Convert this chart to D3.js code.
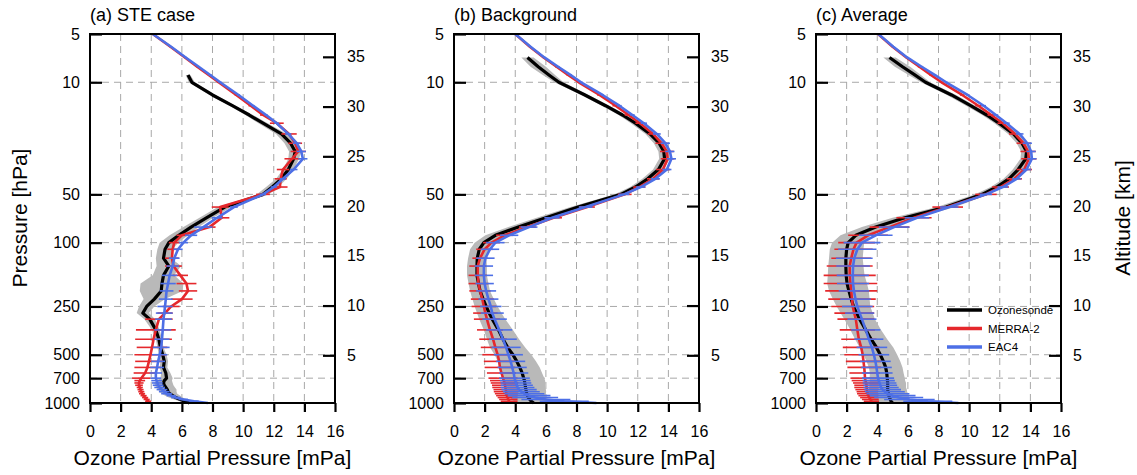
<!DOCTYPE html>
<html>
<head>
<meta charset="utf-8">
<script src="https://cdn.jsdelivr.net/npm/d3@7"></script>
<style>
  body { margin: 0; background: #fff; }
  svg text { font-family: "Liberation Sans", Arial, Helvetica, sans-serif; fill: #000; }
</style>
</head>
<body>
<div id="chart"></div>
<script>
// pressure levels [hPa], top to bottom
const levels = [5, 6, 7, 8, 9, 10,
    12, 14, 16, 18, 21, 24, 27, 30,
    35, 40, 45, 50, 60, 70, 80, 90,
    100, 110, 125, 140, 160, 180, 200, 225,
    250, 275, 300, 350, 400, 450, 500, 550,
    600, 650, 700, 725, 750, 775, 800, 825,
    850, 875, 900, 925, 950, 975, 1000];

const pressureTicks = [5, 10, 50, 100, 250, 500, 700, 1000];
const altitudeTicks = [5, 10, 15, 20, 25, 30, 35];
const ozoneTicks = [0, 2, 4, 6, 8, 10, 12, 14, 16];
const panelTitles = ["(a) STE case", "(b) Background", "(c) Average"];
const seriesNames = ["Ozonesonde", "MERRA-2", "EAC4"];

// (a) STE case
const sondeA = [null, null, null, null, 6.4, 6.65,
    8.0, 9.3, 10.4, 11.3, 12.5, 13.1, 13.4, 13.3,
    12.95, 12.5, 11.9, 11.3, 8.8, 7.6, 6.6, 5.8,
    5.15, 4.9, 4.8, 5.15, 4.8, 4.7, 4.65, 4.2,
    3.7, 3.45, 3.9, 4.3, 4.5, 4.6, 4.75, 4.85,
    4.8, 4.95, 5.0, 4.85, 4.8, 4.85, 4.95, 5.05,
    5.1, 5.2, 5.4, 5.6, 5.9, 6.2, 6.5];
const sondeStdA = [null, null, null, null, 0.15, 0.2,
    0.2, 0.2, 0.25, 0.3, 0.35, 0.4, 0.4, 0.35,
    0.35, 0.35, 0.4, 0.4, 0.45, 0.45, 0.5, 0.6,
    0.6, 0.5, 0.5, 0.8, 0.7, 1.4, 1.4, 0.7,
    0.5, 0.4, 0.35, 0.25, 0.2, 0.2, 0.25, 0.25,
    0.25, 0.3, 0.4, 0.5, 0.6, 0.6, 0.6, 0.6,
    0.55, 0.5, 0.5, 0.45, 0.4, 0.35, 0.3];
const merraA = [4.1, 5.25, 6.2, 7.0, 7.75, 8.4,
    9.55, 10.5, 11.3, 12.2, 13.0, 13.4, 13.6, 13.2,
    12.6, 12.45, 12.4, 11.3, 8.5, 8.6, 7.8, 6.0,
    5.5, 5.4, 5.35, 5.45, 5.9, 6.3, 6.4, 6.0,
    5.3, 4.9, 4.5, 4.3, 4.15, 4.05, 3.95, 3.85,
    3.75, 3.6, 3.35, 3.25, 3.2, 3.2, 3.25, 3.3,
    3.35, 3.4, 3.5, 3.6, 3.7, 3.8, 3.9];
const merraStdA = [0.05, 0.05, 0.05, 0.05, 0.05, 0.1,
    0.1, 0.15, 0.2, 0.45, 0.5, 0.45, 0.5, 0.5,
    0.4, 0.4, 0.5, 0.45, 0.55, 0.5, 0.4, 0.35,
    0.35, 0.35, 0.45, 0.55, 0.5, 0.65, 0.6, 0.7,
    0.55, 0.5, 0.9, 1.3, 1.2, 1.0, 1.05, 0.9,
    0.85, 0.75, 0.6, 0.35, 0.3, 0.25, 0.2, 0.2,
    0.2, 0.2, 0.2, 0.2, 0.2, 0.2, 0.2];
const eacA = [4.1, 5.3, 6.25, 7.1, 7.85, 8.5,
    9.7, 10.65, 11.5, 12.2, 12.95, 13.5, 13.8, 13.9,
    13.3, 12.6, 12.0, 11.3, 9.4, 8.3, 7.4, 6.6,
    6.1, 5.75, 5.5, 5.4, 5.2, 5.1, 5.0, 4.95,
    4.9, 4.85, 4.8, 4.75, 4.7, 4.65, 4.55, 4.45,
    4.38, 4.3, 4.3, 4.35, 4.4, 4.45, 4.55, 4.7,
    4.85, 5.0, 5.3, 5.6, 6.1, 6.8, 7.7];
const eacStdA = [0.05, 0.05, 0.05, 0.05, 0.1, 0.1,
    0.1, 0.1, 0.1, 0.15, 0.2, 0.25, 0.3, 0.3,
    0.25, 0.2, 0.2, 0.2, 0.25, 0.35, 0.6, 0.4,
    0.3, 0.3, 0.35, 0.4, 0.5, 0.5, 0.45, 0.45,
    0.5, 0.55, 0.55, 0.55, 0.5, 0.55, 0.5, 0.45,
    0.45, 0.4, 0.35, 0.35, 0.35, 0.35, 0.35, 0.35,
    0.35, 0.35, 0.3, 0.3, 0.3, 0.3, 0.3];

// (b) Background
const sondeB = [null, null, 4.8, 5.5, 6.2, 6.85,
    8.55, 9.9, 11.0, 11.85, 12.8, 13.4, 13.7, 13.75,
    13.35, 12.65, 11.85, 10.9, 8.1, 6.0, 4.2, 2.7,
    1.95, 1.65, 1.52, 1.5, 1.5, 1.6, 1.7, 1.9,
    2.1, 2.3, 2.5, 2.9, 3.2, 3.5, 3.85, 4.1,
    4.3, 4.45, 4.55, 4.6, 4.62, 4.65, 4.67, 4.7,
    4.72, 4.75, 4.8, 4.85, 4.95, 5.05, 5.2];
const sondeStdB = [null, null, 0.4, 0.5, 0.4, 0.3,
    0.25, 0.25, 0.25, 0.3, 0.3, 0.35, 0.35, 0.35,
    0.35, 0.35, 0.35, 0.4, 0.5, 0.6, 0.65, 0.65,
    0.6, 0.6, 0.6, 0.65, 0.65, 0.65, 0.65, 0.7,
    0.75, 0.8, 0.85, 0.95, 1.05, 1.15, 1.2, 1.25,
    1.3, 1.3, 1.35, 1.35, 1.35, 1.3, 1.3, 1.3,
    1.3, 1.25, 1.25, 1.2, 1.2, 1.1, 1.0];
const merraB = [4.0, 4.95, 5.85, 6.7, 7.45, 8.15,
    9.5, 10.55, 11.4, 12.15, 13.0, 13.55, 13.9, 13.95,
    13.65, 13.0, 12.1, 11.15, 8.7, 6.5, 4.8, 3.3,
    2.45, 2.0, 1.7, 1.55, 1.55, 1.6, 1.7, 1.85,
    1.95, 2.05, 2.15, 2.35, 2.55, 2.7, 2.85, 2.95,
    3.0, 3.1, 3.2, 3.25, 3.3, 3.33, 3.35, 3.38,
    3.4, 3.42, 3.45, 3.5, 3.55, 3.6, 3.65];
const merraStdB = [0.05, 0.05, 0.05, 0.1, 0.1, 0.1,
    0.15, 0.2, 0.25, 0.3, 0.35, 0.4, 0.45, 0.45,
    0.45, 0.4, 0.4, 0.45, 0.5, 0.55, 0.55, 0.55,
    0.55, 0.55, 0.5, 0.55, 0.6, 0.65, 0.7, 0.75,
    0.8, 0.8, 0.85, 0.85, 0.9, 0.95, 1.0, 1.0,
    1.0, 0.95, 0.95, 0.9, 0.9, 0.85, 0.85, 0.8,
    0.8, 0.75, 0.7, 0.65, 0.6, 0.55, 0.5];
const eacB = [4.0, 5.0, 5.9, 6.8, 7.6, 8.3,
    9.7, 10.8, 11.65, 12.4, 13.25, 13.8, 14.1, 14.2,
    13.9, 13.15, 12.2, 11.1, 8.6, 6.4, 4.9, 3.6,
    2.7, 2.35, 2.05, 1.95, 1.95, 2.0, 2.1, 2.25,
    2.4, 2.5, 2.65, 2.95, 3.2, 3.4, 3.55, 3.7,
    3.8, 3.9, 3.95, 4.0, 4.05, 4.1, 4.15, 4.25,
    4.4, 4.6, 4.9, 5.3, 6.0, 7.2, 9.3];
const eacStdB = [0.05, 0.05, 0.05, 0.1, 0.1, 0.1,
    0.1, 0.15, 0.15, 0.2, 0.25, 0.3, 0.3, 0.3,
    0.3, 0.3, 0.3, 0.35, 0.45, 0.5, 0.55, 0.6,
    0.6, 0.6, 0.6, 0.6, 0.6, 0.6, 0.65, 0.65,
    0.7, 0.75, 0.8, 0.85, 0.9, 0.95, 0.95, 0.95,
    0.95, 0.95, 1.0, 1.0, 1.0, 1.05, 1.1, 1.15,
    1.2, 1.3, 1.4, 1.5, 1.6, 1.6, 1.5];

// (c) Average
const sondeC = [null, null, 4.8, 5.65, 6.45, 7.15,
    8.85, 10.1, 11.15, 11.95, 12.9, 13.45, 13.75, 13.7,
    13.2, 12.6, 11.8, 10.85, 8.5, 5.8, 3.9, 2.6,
    2.1, 2.0, 1.95, 1.95, 1.97, 2.03, 2.15, 2.3,
    2.45, 2.65, 2.85, 3.25, 3.6, 3.95, 4.2, 4.4,
    4.55, 4.62, 4.65, 4.67, 4.68, 4.68, 4.68, 4.68,
    4.7, 4.72, 4.75, 4.8, 4.85, 4.9, 5.0];
const sondeStdC = [null, null, 0.4, 0.5, 0.4, 0.3,
    0.3, 0.3, 0.3, 0.3, 0.35, 0.35, 0.35, 0.35,
    0.35, 0.35, 0.4, 0.45, 0.6, 0.8, 0.9, 1.0,
    1.05, 1.1, 1.1, 1.15, 1.2, 1.3, 1.3, 1.2,
    1.1, 1.05, 1.0, 1.0, 1.05, 1.1, 1.1, 1.1,
    1.1, 1.1, 1.15, 1.15, 1.2, 1.2, 1.2, 1.25,
    1.25, 1.3, 1.3, 1.3, 1.3, 1.25, 1.2];
const merraC = [4.05, 5.0, 5.9, 6.75, 7.5, 8.2,
    9.55, 10.6, 11.45, 12.2, 13.0, 13.55, 13.85, 13.9,
    13.6, 12.95, 12.05, 11.1, 8.6, 6.4, 4.8, 3.4,
    2.65, 2.45, 2.3, 2.2, 2.2, 2.25, 2.3, 2.35,
    2.4, 2.5, 2.6, 2.7, 2.8, 2.95, 3.05, 3.1,
    3.15, 3.18, 3.2, 3.23, 3.27, 3.3, 3.3, 3.32,
    3.35, 3.38, 3.42, 3.48, 3.55, 3.62, 3.7];
const merraStdC = [0.05, 0.05, 0.05, 0.1, 0.1, 0.1,
    0.15, 0.2, 0.25, 0.35, 0.4, 0.45, 0.5, 0.5,
    0.5, 0.5, 0.55, 0.7, 1.0, 1.15, 1.3, 1.3,
    1.2, 1.25, 1.3, 1.5, 1.7, 1.75, 1.7, 1.55,
    1.4, 1.3, 1.2, 1.15, 1.15, 1.2, 1.2, 1.15,
    1.1, 1.0, 0.95, 0.9, 0.85, 0.8, 0.8, 0.75,
    0.7, 0.7, 0.65, 0.6, 0.55, 0.5, 0.45];
const eacC = [4.07, 5.05, 5.95, 6.9, 7.75, 8.5,
    9.9, 10.95, 11.75, 12.45, 13.3, 13.8, 14.05, 14.1,
    13.75, 13.1, 12.2, 11.1, 8.7, 6.6, 5.1, 3.9,
    3.0, 2.7, 2.5, 2.42, 2.4, 2.42, 2.48, 2.58,
    2.7, 2.85, 3.0, 3.25, 3.45, 3.65, 3.78, 3.88,
    3.95, 4.0, 4.05, 4.1, 4.15, 4.2, 4.25, 4.35,
    4.5, 4.7, 5.0, 5.4, 6.1, 7.3, 9.3];
const eacStdC = [0.05, 0.05, 0.05, 0.1, 0.1, 0.1,
    0.1, 0.15, 0.15, 0.2, 0.25, 0.3, 0.3, 0.3,
    0.3, 0.3, 0.35, 0.4, 0.6, 0.8, 1.0, 1.1,
    1.2, 1.25, 1.2, 1.1, 1.05, 1.05, 1.0, 1.0,
    1.0, 0.95, 0.95, 0.95, 0.95, 1.0, 1.0, 1.0,
    1.0, 1.0, 1.05, 1.05, 1.1, 1.1, 1.15, 1.2,
    1.3, 1.4, 1.5, 1.6, 1.65, 1.6, 1.5];

const colors = {sonde: "#000000", band: "#b9b9b9", merra: "#e5282c", eac: "#4d6fe6", grid: "#a8a8a8"};

class ProfileVis {
    constructor(svg, cfg) {
        this.svg = svg;
        this.cfg = cfg;
        this.initVis();
    }

    initVis() {
        let vis = this;
        vis.width = 245;
        vis.height = 369;

        vis.g = vis.svg.append("g")
            .attr("transform", `translate(${vis.cfg.left}, 34)`);

        vis.x = d3.scaleLinear().domain([0, 16]).range([0, vis.width]);
        vis.y = d3.scaleLog().domain([5, 1000]).range([0, vis.height]);

        // log-pressure altitude, scale height 7 km, surface 1030 hPa
        let Hs = 7, p0 = 1030;
        vis.alt = d3.scaleLinear()
            .domain([0, 35])
            .range([vis.y(p0), vis.y(p0 * Math.exp(-35 / Hs))]);

        // dashed grid
        vis.g.selectAll(".vgrid")
            .data(ozoneTicks.filter(d => d > 0 && d < 16))
            .enter().append("line")
            .attr("class", "vgrid")
            .attr("x1", d => vis.x(d)).attr("x2", d => vis.x(d))
            .attr("y1", 0).attr("y2", vis.height)
            .attr("stroke", colors.grid).attr("stroke-width", 1)
            .attr("stroke-dasharray", "7,5");

        vis.g.selectAll(".hgrid")
            .data(pressureTicks.filter(d => d > 5 && d < 1000))
            .enter().append("line")
            .attr("class", "hgrid")
            .attr("x1", 0).attr("x2", vis.width)
            .attr("y1", d => vis.y(d)).attr("y2", d => vis.y(d))
            .attr("stroke", colors.grid).attr("stroke-width", 1)
            .attr("stroke-dasharray", "7,5");

        vis.g.append("text")
            .attr("x", 0).attr("y", -13)
            .style("font-size", "18px")
            .text(vis.cfg.title);

        vis.wrangleData();
    }

    wrangleData() {
        let vis = this;
        vis.sonde = levels.map((p, i) => ({p: p, v: vis.cfg.sonde[i], s: vis.cfg.sondeStd[i]}))
            .filter(d => d.v !== null);
        vis.merra = levels.map((p, i) => ({p: p, v: vis.cfg.merra[i], s: vis.cfg.merraStd[i]}));
        vis.eac = levels.map((p, i) => ({p: p, v: vis.cfg.eac[i], s: vis.cfg.eacStd[i]}));
        vis.updateVis();
    }

    updateVis() {
        let vis = this;

        let band = d3.area()
            .y(d => vis.y(d.p))
            .x0(d => vis.x(d.v - d.s))
            .x1(d => vis.x(d.v + d.s));

        let line = d3.line()
            .x(d => vis.x(d.v))
            .y(d => vis.y(d.p));

        vis.g.append("path")
            .datum(vis.sonde)
            .attr("d", band)
            .attr("fill", colors.band);

        vis.g.append("path")
            .datum(vis.sonde)
            .attr("d", line)
            .attr("fill", "none")
            .attr("stroke", colors.sonde)
            .attr("stroke-width", 3.2)
            .attr("stroke-linejoin", "round");

        [[vis.merra, colors.merra, "merra"], [vis.eac, colors.eac, "eac"]].forEach(([data, col, key]) => {
            vis.g.selectAll(".bar-" + key)
                .data(data)
                .enter().append("line")
                .attr("class", "bar-" + key)
                .attr("x1", d => vis.x(d.v - d.s))
                .attr("x2", d => vis.x(d.v + d.s))
                .attr("y1", d => vis.y(d.p))
                .attr("y2", d => vis.y(d.p))
                .attr("stroke", col)
                .attr("stroke-width", 1.6);

            vis.g.append("path")
                .datum(data)
                .attr("d", line)
                .attr("fill", "none")
                .attr("stroke", col)
                .attr("stroke-width", 2.6)
                .attr("stroke-linejoin", "round");
        });

        // frame
        vis.g.append("rect")
            .attr("width", vis.width).attr("height", vis.height)
            .attr("fill", "none").attr("stroke", "#000").attr("stroke-width", 2);

        // axes
        let left = vis.g.append("g")
            .call(d3.axisLeft(vis.y).tickValues(pressureTicks).tickFormat(d3.format("d"))
                .tickSize(-12).tickPadding(10));
        let right = vis.g.append("g")
            .attr("transform", `translate(${vis.width}, 0)`)
            .call(d3.axisRight(vis.alt).tickValues(altitudeTicks)
                .tickSize(-12).tickPadding(12));
        let bottom = vis.g.append("g")
            .attr("transform", `translate(0, ${vis.height})`)
            .call(d3.axisBottom(vis.x).tickValues(ozoneTicks)
                .tickSize(9).tickPadding(14));

        [left, right, bottom].forEach(ax => {
            ax.select(".domain").remove();
            ax.selectAll(".tick line").attr("stroke", "#000").attr("stroke-width", 2.2);
            ax.selectAll(".tick text")
                .style("font-size", "16px")
                .attr("fill", "#000")
                .attr("font-family", null);
        });

        vis.g.append("text")
            .attr("x", vis.width / 2).attr("y", 431)
            .attr("text-anchor", "middle")
            .style("font-size", "21px")
            .text("Ozone Partial Pressure [mPa]");

        if (vis.cfg.legend) {
            let items = [colors.sonde, colors.merra, colors.eac];
            let lg = vis.g.selectAll(".legend")
                .data(items)
                .enter().append("g")
                .attr("class", "legend")
                .attr("transform", (d, i) => `translate(131, ${276 + i * 18.5})`);
            lg.append("line")
                .attr("x1", 0).attr("x2", 35)
                .attr("stroke", d => d)
                .attr("stroke-width", 3.5);
            lg.append("text")
                .attr("x", 41).attr("y", 0).attr("dy", "0.35em")
                .style("font-size", "11.5px")
                .text((d, i) => seriesNames[i]);
        }
    }
}

const svg = d3.select("#chart").append("svg")
    .attr("width", 1137)
    .attr("height", 475);

const panels = [
    {left: 90, title: panelTitles[0], sonde: sondeA, sondeStd: sondeStdA, merra: merraA, merraStd: merraStdA, eac: eacA, eacStd: eacStdA},
    {left: 454, title: panelTitles[1], sonde: sondeB, sondeStd: sondeStdB, merra: merraB, merraStd: merraStdB, eac: eacB, eacStd: eacStdB},
    {left: 816, title: panelTitles[2], sonde: sondeC, sondeStd: sondeStdC, merra: merraC, merraStd: merraStdC, eac: eacC, eacStd: eacStdC, legend: true}
];
panels.forEach(cfg => new ProfileVis(svg, cfg));

svg.append("text")
    .attr("transform", "translate(27, 218) rotate(-90)")
    .attr("text-anchor", "middle")
    .style("font-size", "21px")
    .text("Pressure [hPa]");

svg.append("text")
    .attr("transform", "translate(1130, 218) rotate(-90)")
    .attr("text-anchor", "middle")
    .style("font-size", "21px")
    .text("Altitude [km]");
</script>
</body>
</html>
